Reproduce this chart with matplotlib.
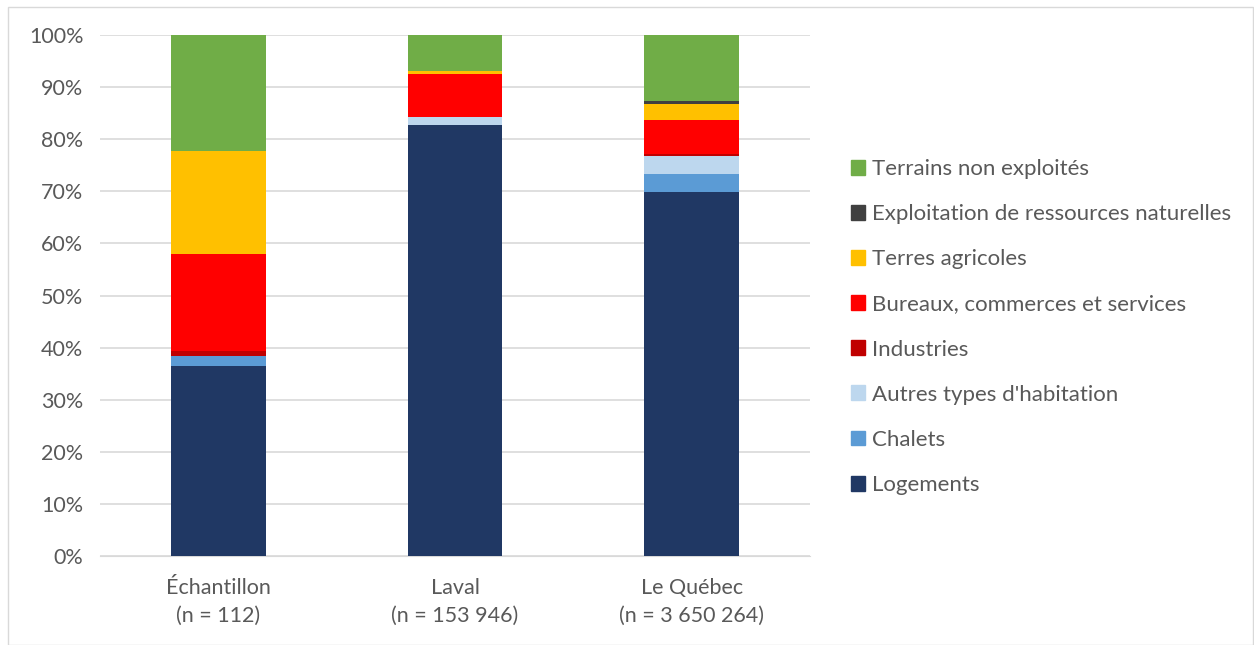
import numpy as np
import matplotlib.pyplot as plt
from matplotlib.patches import Patch

plt.rcParams['font.family'] = ['Lato', 'DejaVu Sans']

categories = ['Échantillon\n(n = 112)', 'Laval\n(n = 153 946)', 'Le Québec\n(n = 3 650 264)']
series = ['Logements', 'Chalets', "Autres types d'habitation", 'Industries',
          'Bureaux, commerces et services', 'Terres agricoles',
          'Exploitation de ressources naturelles', 'Terrains non exploités']
colors = ['#203864', '#5b9bd5', '#bdd7ee', '#c00000', '#ff0000', '#ffc000', '#404040', '#70ad47']

logements = [36.5, 82.7, 69.8]
chalets = [1.9, 0.0, 3.6]
autres = [0.0, 1.6, 3.4]
industries = [0.9, 0.0, 0.3]
bureaux = [18.7, 8.3, 6.5]
agricoles = [19.7, 0.5, 3.2]
exploitation = [0.0, 0.0, 0.5]
non_exploites = [22.3, 6.9, 12.7]
values = [logements, chalets, autres, industries, bureaux, agricoles, exploitation, non_exploites]

W, H = 1254, 645
fig = plt.figure(figsize=(W / 100, H / 100), dpi=100)
ax = fig.add_axes([100 / W, 1 - 556 / H, 710 / W, 521 / H])

x = np.arange(len(categories))
bottom = np.zeros(len(categories))
for vals, col in zip(values, colors):
    ax.bar(x, vals, 0.4, bottom=bottom, color=col, zorder=3)
    bottom += np.array(vals)

ax.set_xlim(-0.5, 2.5)
ax.set_ylim(0, 100)
ax.set_yticks(np.arange(0, 101, 10))
ax.set_yticklabels([f'{v}%' for v in range(0, 101, 10)])
ax.set_xticks(x)
ax.set_xticklabels(categories, linespacing=1.5)
ax.grid(axis='y', color='#d9d9d9', linewidth=1.2, zorder=0)
for s in ['top', 'right', 'left']:
    ax.spines[s].set_visible(False)
ax.spines['bottom'].set_color('#d9d9d9')
ax.tick_params(length=0, labelsize=15.5, colors='#595959', pad=12)
ax.tick_params(axis='x', pad=16)

handles = [Patch(color=c, label=s) for s, c in zip(series, colors)][::-1]
fig.legend(handles=handles, loc='center left', bbox_to_anchor=(831 / W, 1 - 327 / H),
           frameon=False, fontsize=16, labelcolor='#595959', handlelength=0.65,
           handleheight=0.65, handletextpad=0.3, labelspacing=1.13)

border = plt.Rectangle((8 / W, 0), 1 - 9 / W, 1 - 7 / H, transform=fig.transFigure,
                       fill=False, edgecolor='#d9d9d9', linewidth=1)
fig.patches.append(border)

fig.savefig('out.png', dpi=100)
